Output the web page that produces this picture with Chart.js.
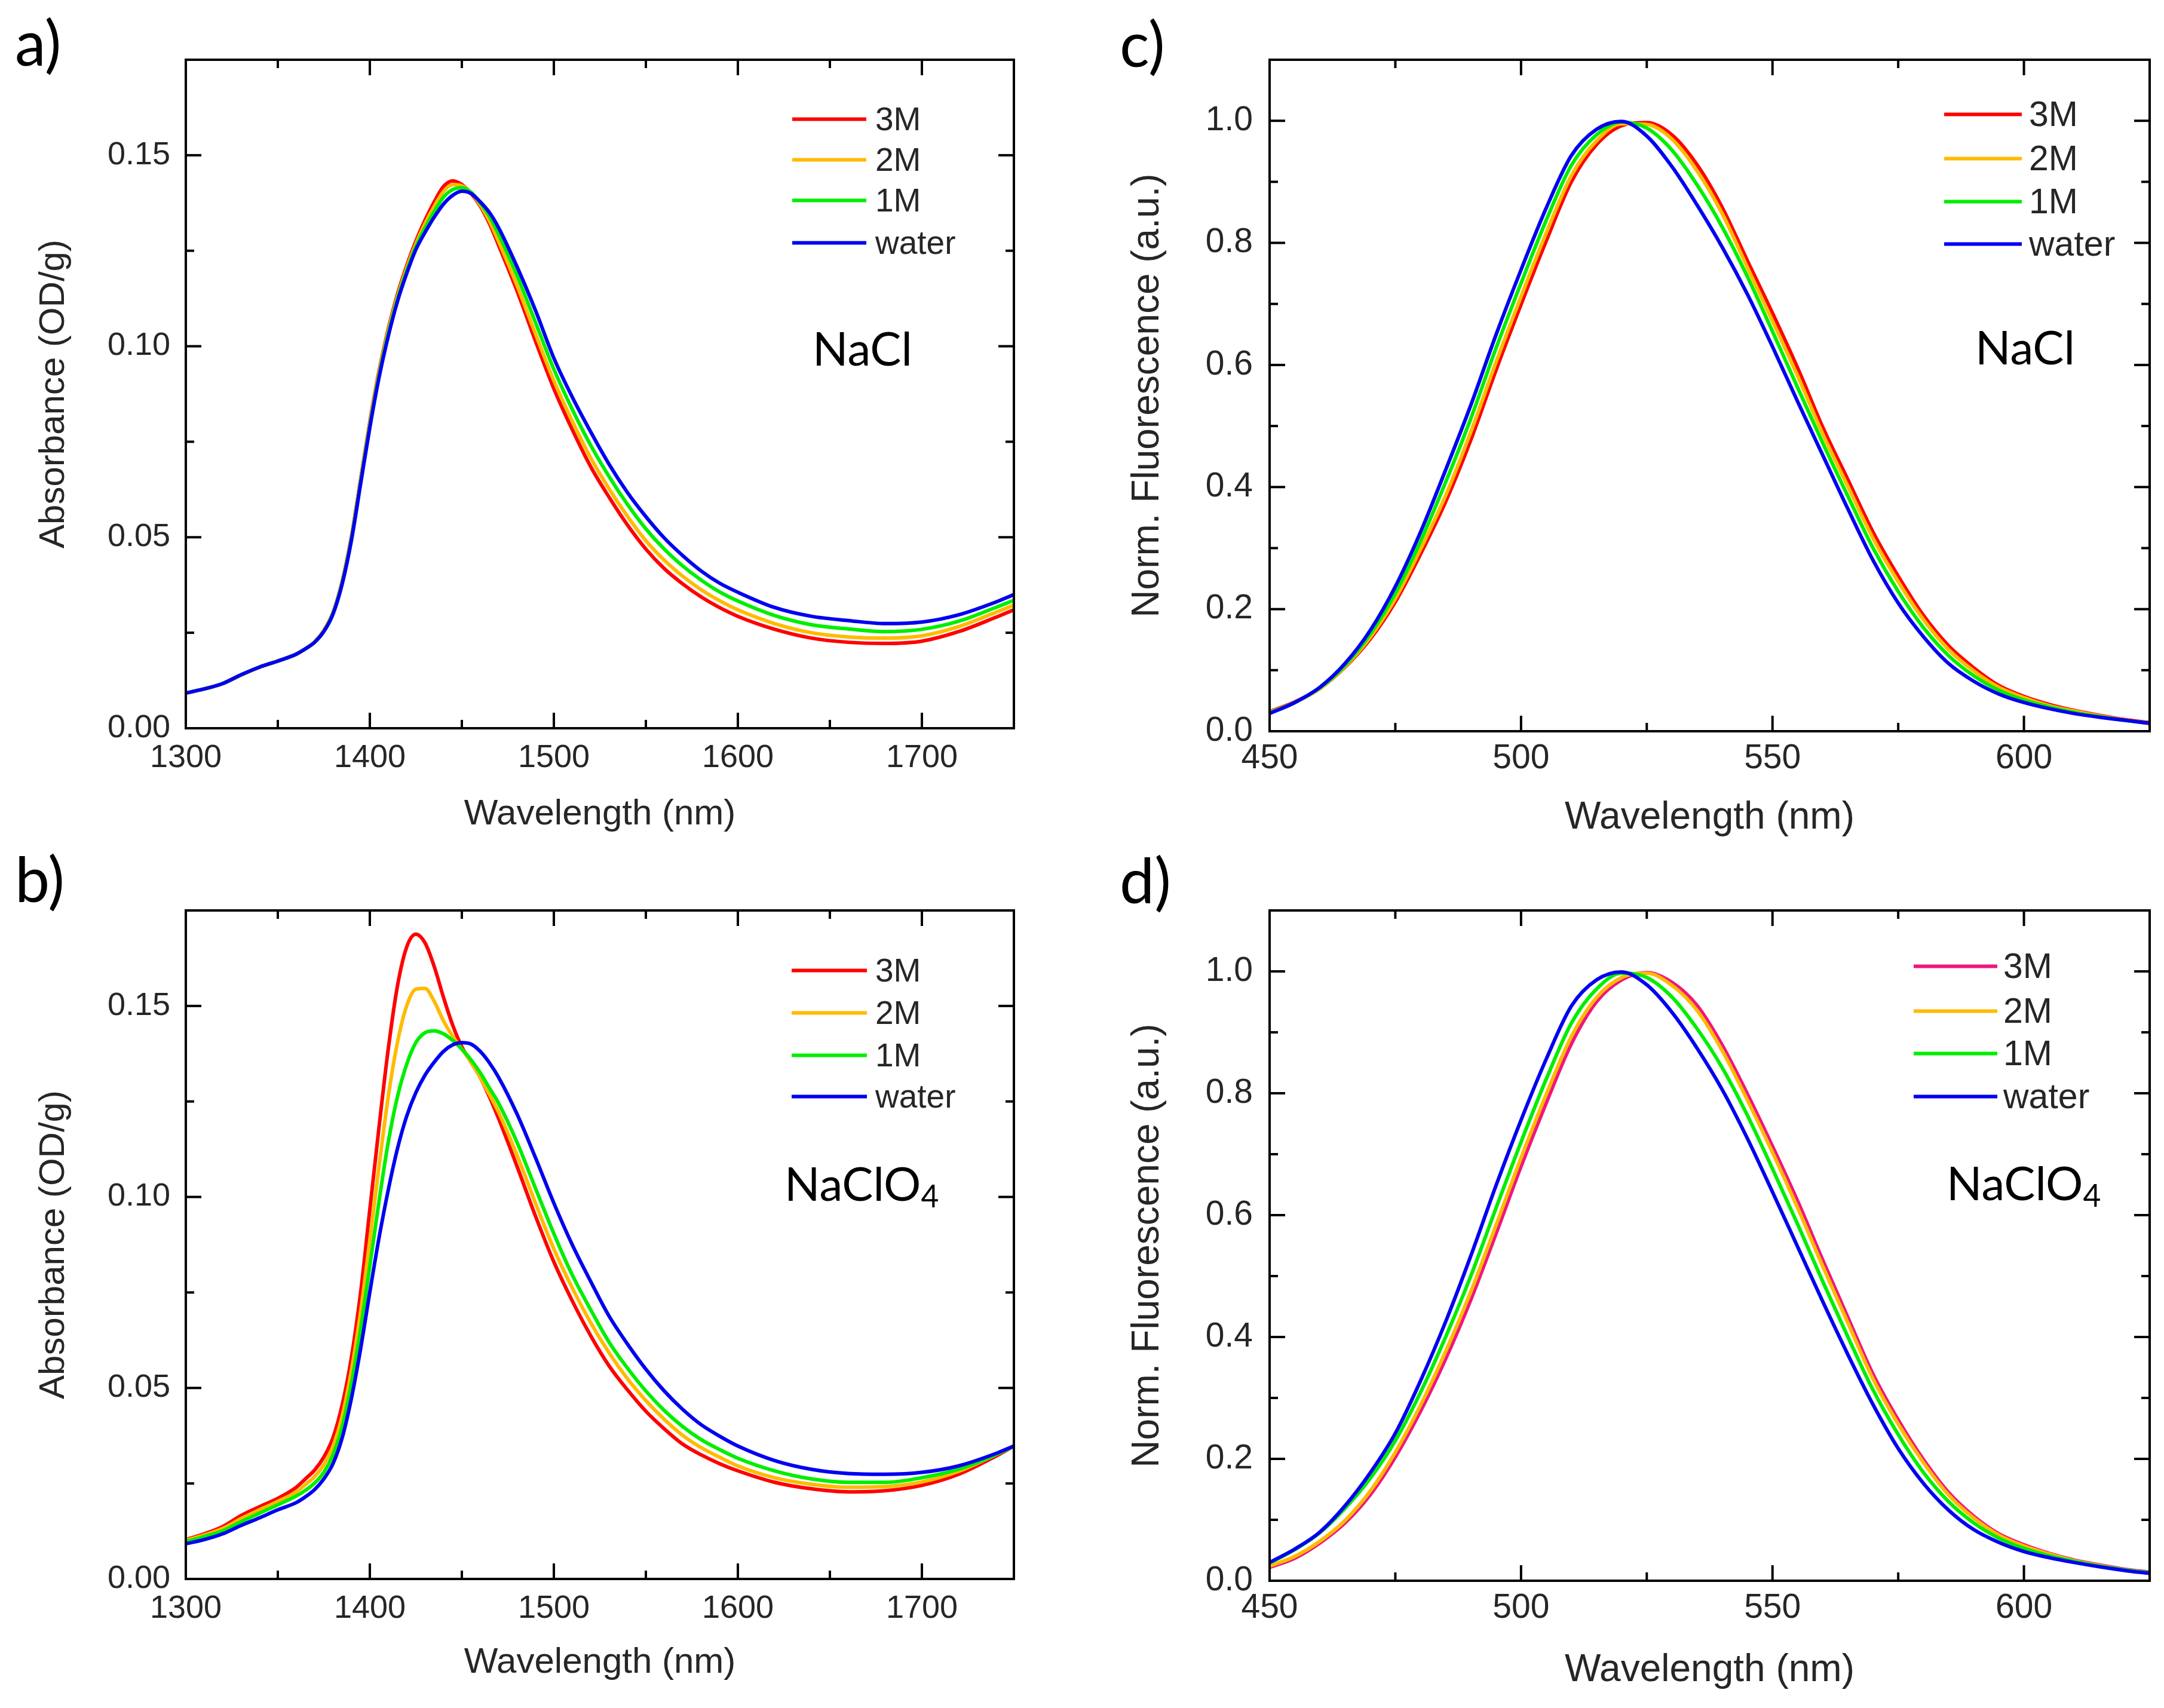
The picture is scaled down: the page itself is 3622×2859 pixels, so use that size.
<!DOCTYPE html>
<html>
<head>
<meta charset="utf-8">
<title>Absorbance and fluorescence spectra in NaCl and NaClO4</title>
<script src="https://cdn.jsdelivr.net/npm/chart.js@4.4.1/dist/chart.umd.min.js"></script>
<style>
  html, body { margin: 0; padding: 0; background: #fff; }
  #page { position: relative; width: 3622px; height: 2859px; overflow: hidden; background: #fff; }
  #page canvas { position: absolute; left: 0; top: 0; }
  .note { position: absolute; line-height: 0; white-space: nowrap; color: #000;
          font-family: Lato, "Open Sans", sans-serif; }
  .note .sub { position: relative; top: 0.22em; font-size: 0.66em; }
  .legend-row { position: absolute; display: flex; align-items: center; transform: translateY(-50%);
                font-family: "Liberation Sans", Arial, sans-serif; color: #262626; line-height: 1; }
  .legend-row .swatch { display: inline-block; height: 6px; }
</style>
</head>
<body>
<div id="page">
  <canvas id="chartA" width="3622" height="2859"></canvas>
  <canvas id="chartB" width="3622" height="2859"></canvas>
  <canvas id="chartC" width="3622" height="2859"></canvas>
  <canvas id="chartD" width="3622" height="2859"></canvas>
</div>
<script>
// ---- data ----
const seriesLabels = ["3M", "2M", "1M", "water"];

// absorbance panels (a, b), wavelength in nm
const absWavelength = [1300, 1310, 1320, 1330, 1340, 1350, 1360, 1365, 1370, 1375, 1380, 1385, 1390, 1395,
  1400, 1405, 1410, 1415, 1420, 1425, 1430, 1435, 1440, 1445, 1450, 1455, 1460, 1465, 1470, 1480, 1490,
  1500, 1510, 1520, 1530, 1540, 1550, 1560, 1570, 1580, 1590, 1600, 1620, 1640, 1660, 1680, 1700, 1720,
  1740, 1750];

const naclAbs3M = [0.0092, 0.0103, 0.0117, 0.0139, 0.0160, 0.0176, 0.0194, 0.0208, 0.0226, 0.0256, 0.0303,
  0.0385, 0.0502, 0.0652, 0.0802, 0.0935, 0.1045, 0.1136, 0.1210, 0.1275, 0.1330, 0.1378, 0.1418, 0.1433,
  0.1423, 0.1400, 0.1367, 0.1321, 0.1264, 0.1145, 0.1014, 0.0889, 0.0782, 0.0685, 0.0605, 0.0532, 0.0469,
  0.0418, 0.0378, 0.0344, 0.0316, 0.0293, 0.0259, 0.0236, 0.0225, 0.0222, 0.0228, 0.0253, 0.0290, 0.0310];
const naclAbs2M = [0.0092, 0.0103, 0.0117, 0.0139, 0.0160, 0.0176, 0.0194, 0.0208, 0.0226, 0.0255, 0.0302,
  0.0383, 0.0499, 0.0648, 0.0797, 0.0930, 0.1040, 0.1130, 0.1204, 0.1268, 0.1321, 0.1366, 0.1405, 0.1423,
  0.1420, 0.1402, 0.1370, 0.1328, 0.1274, 0.1159, 0.1033, 0.0910, 0.0804, 0.0708, 0.0627, 0.0555, 0.0491,
  0.0440, 0.0398, 0.0363, 0.0334, 0.0310, 0.0274, 0.0250, 0.0239, 0.0236, 0.0242, 0.0266, 0.0303, 0.0322];
const naclAbs1M = [0.0092, 0.0103, 0.0117, 0.0140, 0.0160, 0.0176, 0.0194, 0.0208, 0.0225, 0.0254, 0.0301,
  0.0381, 0.0496, 0.0644, 0.0792, 0.0924, 0.1033, 0.1124, 0.1197, 0.1261, 0.1310, 0.1353, 0.1390, 0.1410,
  0.1415, 0.1403, 0.1375, 0.1340, 0.1293, 0.1185, 0.1063, 0.0940, 0.0835, 0.0741, 0.0659, 0.0586, 0.0522,
  0.0469, 0.0425, 0.0388, 0.0357, 0.0333, 0.0295, 0.0271, 0.0260, 0.0253, 0.0259, 0.0280, 0.0316, 0.0335];
const naclAbsWater = [0.0092, 0.0103, 0.0117, 0.0140, 0.0160, 0.0176, 0.0194, 0.0208, 0.0225, 0.0253, 0.0299,
  0.0378, 0.0492, 0.0640, 0.0787, 0.0918, 0.1026, 0.1117, 0.1190, 0.1253, 0.1298, 0.1338, 0.1372, 0.1395,
  0.1406, 0.1400, 0.1378, 0.1350, 0.1310, 0.1208, 0.1094, 0.0969, 0.0867, 0.0776, 0.0691, 0.0617, 0.0554,
  0.0498, 0.0452, 0.0412, 0.0380, 0.0356, 0.0316, 0.0293, 0.0282, 0.0274, 0.0278, 0.0297, 0.0330, 0.0350];

const clo4Abs3M = [0.0103, 0.0118, 0.0137, 0.0166, 0.0189, 0.0211, 0.0240, 0.0262, 0.0285, 0.0319, 0.0370,
  0.0456, 0.0580, 0.0750, 0.0967, 0.1183, 0.1387, 0.1552, 0.1654, 0.1688, 0.1665, 0.1603, 0.1523, 0.1450,
  0.1393, 0.1353, 0.1313, 0.1262, 0.1205, 0.1080, 0.0950, 0.0830, 0.0728, 0.0637, 0.0558, 0.0495, 0.0439,
  0.0393, 0.0353, 0.0325, 0.0302, 0.0283, 0.0253, 0.0236, 0.0228, 0.0231, 0.0245, 0.0274, 0.0321, 0.0348];
const clo4Abs2M = [0.0101, 0.0115, 0.0132, 0.0158, 0.0181, 0.0203, 0.0228, 0.0247, 0.0268, 0.0299, 0.0348,
  0.0427, 0.0546, 0.0700, 0.0887, 0.1080, 0.1262, 0.1404, 0.1500, 0.1544, 0.1546, 0.1512, 0.1461, 0.1421,
  0.1387, 0.1353, 0.1313, 0.1268, 0.1222, 0.1109, 0.0984, 0.0864, 0.0762, 0.0671, 0.0592, 0.0524, 0.0467,
  0.0418, 0.0376, 0.0344, 0.0319, 0.0296, 0.0265, 0.0248, 0.0240, 0.0242, 0.0254, 0.0282, 0.0325, 0.0348];
const clo4Abs1M = [0.0098, 0.0111, 0.0126, 0.0150, 0.0172, 0.0194, 0.0217, 0.0232, 0.0251, 0.0279, 0.0325,
  0.0399, 0.0512, 0.0654, 0.0819, 0.0989, 0.1143, 0.1262, 0.1347, 0.1404, 0.1430, 0.1435, 0.1427, 0.1410,
  0.1387, 0.1359, 0.1325, 0.1285, 0.1245, 0.1143, 0.1023, 0.0904, 0.0796, 0.0705, 0.0620, 0.0552, 0.0492,
  0.0441, 0.0399, 0.0365, 0.0339, 0.0316, 0.0283, 0.0262, 0.0253, 0.0253, 0.0265, 0.0287, 0.0325, 0.0348];
const clo4AbsWater = [0.0092, 0.0103, 0.0118, 0.0140, 0.0160, 0.0181, 0.0200, 0.0215, 0.0234, 0.0262, 0.0302,
  0.0370, 0.0473, 0.0603, 0.0751, 0.0893, 0.1018, 0.1126, 0.1211, 0.1273, 0.1319, 0.1353, 0.1381, 0.1398,
  0.1404, 0.1400, 0.1381, 0.1351, 0.1313, 0.1217, 0.1103, 0.0984, 0.0875, 0.0779, 0.0688, 0.0615, 0.0549,
  0.0492, 0.0444, 0.0404, 0.0374, 0.0348, 0.0310, 0.0287, 0.0276, 0.0274, 0.0279, 0.0296, 0.0328, 0.0348];

// fluorescence panels (c, d), wavelength in nm
const flWavelength = [450, 455, 460, 465, 470, 475, 480, 485, 490, 495, 500, 505, 510, 515, 520, 525, 530,
  535, 540, 545, 550, 555, 560, 565, 570, 575, 580, 585, 590, 595, 600, 605, 610, 615, 620, 625];

const naclFl3M = [0.032, 0.048, 0.070, 0.105, 0.151, 0.212, 0.290, 0.376, 0.477, 0.591, 0.699, 0.803, 0.900,
  0.961, 0.992, 0.997, 0.977, 0.928, 0.858, 0.771, 0.685, 0.595, 0.498, 0.412, 0.326, 0.254, 0.190, 0.140,
  0.104, 0.075, 0.057, 0.044, 0.034, 0.026, 0.019, 0.014];
const naclFl2M = [0.031, 0.047, 0.070, 0.106, 0.154, 0.217, 0.298, 0.386, 0.490, 0.604, 0.712, 0.816, 0.910,
  0.967, 0.995, 0.994, 0.970, 0.918, 0.848, 0.760, 0.672, 0.582, 0.487, 0.401, 0.316, 0.245, 0.183, 0.134,
  0.099, 0.072, 0.055, 0.042, 0.033, 0.025, 0.018, 0.013];
const naclFl1M = [0.030, 0.047, 0.071, 0.108, 0.159, 0.226, 0.311, 0.408, 0.512, 0.627, 0.734, 0.837, 0.927,
  0.977, 0.998, 0.988, 0.952, 0.895, 0.826, 0.745, 0.655, 0.563, 0.472, 0.385, 0.300, 0.229, 0.170, 0.124,
  0.091, 0.067, 0.051, 0.040, 0.031, 0.024, 0.018, 0.013];
const naclFlWater = [0.029, 0.047, 0.072, 0.111, 0.165, 0.237, 0.326, 0.428, 0.534, 0.649, 0.756, 0.857, 0.943,
  0.986, 0.999, 0.975, 0.925, 0.862, 0.793, 0.716, 0.630, 0.540, 0.452, 0.364, 0.280, 0.210, 0.155, 0.111,
  0.082, 0.061, 0.047, 0.037, 0.029, 0.023, 0.018, 0.013];

const clo4Fl3M = [0.022, 0.037, 0.062, 0.095, 0.141, 0.203, 0.278, 0.364, 0.461, 0.569, 0.680, 0.784, 0.881,
  0.950, 0.986, 0.998, 0.982, 0.944, 0.879, 0.799, 0.713, 0.623, 0.526, 0.432, 0.339, 0.264, 0.199, 0.145,
  0.106, 0.077, 0.059, 0.045, 0.034, 0.026, 0.019, 0.014];
const clo4Fl2M = [0.024, 0.040, 0.065, 0.099, 0.147, 0.211, 0.288, 0.376, 0.474, 0.583, 0.694, 0.798, 0.893,
  0.957, 0.990, 0.997, 0.977, 0.936, 0.870, 0.789, 0.703, 0.612, 0.516, 0.423, 0.331, 0.257, 0.194, 0.141,
  0.103, 0.075, 0.057, 0.044, 0.033, 0.025, 0.018, 0.013];
const clo4Fl1M = [0.029, 0.051, 0.079, 0.119, 0.168, 0.230, 0.309, 0.400, 0.500, 0.611, 0.720, 0.823, 0.915,
  0.971, 0.997, 0.990, 0.958, 0.906, 0.842, 0.764, 0.676, 0.585, 0.491, 0.400, 0.313, 0.240, 0.178, 0.130,
  0.095, 0.070, 0.053, 0.041, 0.032, 0.024, 0.018, 0.013];
const clo4FlWater = [0.030, 0.052, 0.080, 0.123, 0.177, 0.242, 0.328, 0.425, 0.533, 0.648, 0.756, 0.856, 0.943,
  0.986, 0.999, 0.978, 0.933, 0.874, 0.806, 0.726, 0.638, 0.548, 0.458, 0.371, 0.289, 0.217, 0.160, 0.116,
  0.084, 0.063, 0.048, 0.038, 0.030, 0.023, 0.017, 0.012];

// tick values
const absXTicks = [1300, 1400, 1500, 1600, 1700];
const absXMinor = [1350, 1450, 1550, 1650];
const absYTicks = [0, 0.05, 0.10, 0.15];
const absYMinor = [0.025, 0.075, 0.125];
const flXTicks = [450, 500, 550, 600];
const flXMinor = [475, 525, 575];
const flYTicks = [0, 0.2, 0.4, 0.6, 0.8, 1.0];
const flYMinor = [0.1, 0.3, 0.5, 0.7, 0.9];

const naclColors = ["#ff0000", "#ffbb00", "#00ee00", "#0000f0"];
const clo4FlColors = ["#f0157f", "#ffbb00", "#00ee00", "#0000f0"];

// ---- layout ----
const PAGE_W = 3622, PAGE_H = 2859;
const Y_AXIS_W = 300, X_AXIS_H = 200;
const TEXT = "#262626";
Chart.defaults.font.family = '"Liberation Sans", Arial, sans-serif';

// box with inward ticks on all four sides, Origin style
const frameTicks = {
  id: "frameTicks",
  afterDatasetsDraw(chart, args, opts) {
    const { ctx, chartArea: a, scales: { x, y } } = chart;
    const seg = (x1, y1, x2, y2) => { ctx.beginPath(); ctx.moveTo(x1, y1); ctx.lineTo(x2, y2); ctx.stroke(); };
    ctx.save();
    ctx.strokeStyle = "#000";
    ctx.lineWidth = 4;
    const xs = opts.xMajor.map(v => [v, 26]).concat(opts.xMinor.map(v => [v, 14]));
    xs.forEach(([v, len]) => {
      const px = x.getPixelForValue(v);
      seg(px, a.bottom, px, a.bottom - len);
      seg(px, a.top, px, a.top + len);
    });
    const ys = opts.yMajor.map(v => [v, 26]).concat(opts.yMinor.map(v => [v, 14]));
    ys.forEach(([v, len]) => {
      const py = y.getPixelForValue(v);
      seg(a.left, py, a.left + len, py);
      seg(a.right, py, a.right - len, py);
    });
    ctx.strokeRect(a.left, a.top, a.right - a.left, a.bottom - a.top);
    ctx.restore();
  }
};

const panels = [
  { canvas: "chartA", wavelength: absWavelength, series: [naclAbs3M, naclAbs2M, naclAbs1M, naclAbsWater],
    colors: naclColors, xRange: [1300, 1750], yRange: [0, 0.175], xTicks: absXTicks, xMinor: absXMinor,
    yTicks: absYTicks, yMinor: absYMinor, decimals: 2, yTitle: "Absorbance (OD/g)",
    area: { left: 311, right: 1697, top: 100, bottom: 1219 },
    tickSize: 54, titleSize: 60, yTickPad: 26, xTickPad: 18, yTitlePad: 43, xTitlePad: 20,
    legend: { x: 1326, line: 124, gap: 15, rows: [199, 267, 335, 406], size: 55 } },
  { canvas: "chartB", wavelength: absWavelength, series: [clo4Abs3M, clo4Abs2M, clo4Abs1M, clo4AbsWater],
    colors: naclColors, xRange: [1300, 1750], yRange: [0, 0.175], xTicks: absXTicks, xMinor: absXMinor,
    yTicks: absYTicks, yMinor: absYMinor, decimals: 2, yTitle: "Absorbance (OD/g)",
    area: { left: 311, right: 1697, top: 1524, bottom: 2643 },
    tickSize: 54, titleSize: 60, yTickPad: 26, xTickPad: 18, yTitlePad: 43, xTitlePad: 24,
    legend: { x: 1325, line: 126, gap: 14, rows: [1624, 1695, 1766, 1835], size: 55 } },
  { canvas: "chartC", wavelength: flWavelength, series: [naclFl3M, naclFl2M, naclFl1M, naclFlWater],
    colors: naclColors, xRange: [450, 625], yRange: [0, 1.1], xTicks: flXTicks, xMinor: flXMinor,
    yTicks: flYTicks, yMinor: flYMinor, decimals: 1, yTitle: "Norm. Fluorescence (a.u.)",
    area: { left: 2125, right: 3598, top: 100, bottom: 1224 },
    tickSize: 57, titleSize: 64, yTickPad: 28, xTickPad: 12, yTitlePad: 58, xTitlePad: 16,
    legend: { x: 3254, line: 130, gap: 12, rows: [191, 265, 337, 408], size: 59 } },
  { canvas: "chartD", wavelength: flWavelength, series: [clo4Fl3M, clo4Fl2M, clo4Fl1M, clo4FlWater],
    colors: clo4FlColors, xRange: [450, 625], yRange: [0, 1.1], xTicks: flXTicks, xMinor: flXMinor,
    yTicks: flYTicks, yMinor: flYMinor, decimals: 1, yTitle: "Norm. Fluorescence (a.u.)",
    area: { left: 2125, right: 3598, top: 1524, bottom: 2646 },
    tickSize: 57, titleSize: 64, yTickPad: 28, xTickPad: 12, yTitlePad: 58, xTitlePad: 11,
    legend: { x: 3203, line: 140, gap: 10, rows: [1617, 1692, 1763, 1835], size: 59 } },
];

const notes = [
  { text: "a)", left: 25, baseline: 110, size: 104 },
  { text: "b)", left: 25, baseline: 1510, size: 104 },
  { text: "c)", left: 1874, baseline: 112, size: 104 },
  { text: "d)", left: 1874, baseline: 1512, size: 104 },
  { text: "NaCl", left: 1360, baseline: 612, size: 78 },
  { text: "NaCl", left: 3306, baseline: 610, size: 78 },
  { text: "NaClO", sub: "4", left: 1313, baseline: 2010, size: 78 },
  { text: "NaClO", sub: "4", left: 3258, baseline: 2009, size: 78 },
];

function buildChart(p) {
  const datasets = p.series.map((values, i) => ({
    label: seriesLabels[i],
    data: p.wavelength.map((w, j) => ({ x: w, y: values[j] })),
    borderColor: p.colors[i],
    backgroundColor: p.colors[i],
    borderWidth: 6,
    pointRadius: 0,
    fill: false,
    cubicInterpolationMode: "monotone",
    order: seriesLabels.length - 1 - i,   // water on top
  }));

  return new Chart(document.getElementById(p.canvas), {
    type: "line",
    data: { datasets },
    plugins: [frameTicks],
    options: {
      responsive: false,
      animation: false,
      devicePixelRatio: 1,
      layout: {
        padding: {
          left: p.area.left - Y_AXIS_W,
          top: p.area.top,
          right: PAGE_W - p.area.right,
          bottom: PAGE_H - p.area.bottom - X_AXIS_H,
        },
      },
      plugins: {
        legend: { display: false },
        tooltip: { enabled: false },
        frameTicks: { xMajor: p.xTicks, xMinor: p.xMinor, yMajor: p.yTicks, yMinor: p.yMinor },
      },
      scales: {
        x: {
          type: "linear",
          min: p.xRange[0],
          max: p.xRange[1],
          afterBuildTicks: (s) => { s.ticks = p.xTicks.map(v => ({ value: v })); },
          afterFit: (s) => { s.height = X_AXIS_H; },
          grid: { display: false, drawTicks: false },
          border: { display: false },
          ticks: {
            autoSkip: false, maxRotation: 0, padding: p.xTickPad, color: TEXT,
            font: { size: p.tickSize }, callback: (v) => String(v),
          },
          title: {
            display: true, text: "Wavelength (nm)", color: TEXT,
            font: { size: p.titleSize }, padding: { top: 0, bottom: p.xTitlePad },
          },
        },
        y: {
          type: "linear",
          min: p.yRange[0],
          max: p.yRange[1],
          afterBuildTicks: (s) => { s.ticks = p.yTicks.map(v => ({ value: v })); },
          afterFit: (s) => { s.width = Y_AXIS_W; },
          grid: { display: false, drawTicks: false },
          border: { display: false },
          ticks: {
            padding: p.yTickPad, color: TEXT, font: { size: p.tickSize },
            callback: (v) => Number(v).toFixed(p.decimals),
          },
          title: {
            display: true, text: p.yTitle, color: TEXT,
            font: { size: p.titleSize }, padding: { top: p.yTitlePad, bottom: 0 },
          },
        },
      },
    },
  });
}

const page = document.getElementById("page");

panels.forEach((p) => {
  const chart = buildChart(p);
  // legend as html rows, taken from the chart's own datasets
  chart.data.datasets.forEach((ds, i) => {
    const row = document.createElement("div");
    row.className = "legend-row";
    row.style.left = p.legend.x + "px";
    row.style.top = p.legend.rows[i] + "px";
    row.style.fontSize = p.legend.size + "px";
    const swatch = document.createElement("span");
    swatch.className = "swatch";
    swatch.style.width = p.legend.line + "px";
    swatch.style.background = ds.borderColor;
    const label = document.createElement("span");
    label.textContent = ds.label;
    label.style.marginLeft = p.legend.gap + "px";
    row.appendChild(swatch);
    row.appendChild(label);
    page.appendChild(row);
  });
});

notes.forEach((n) => {
  const el = document.createElement("div");
  el.className = "note";
  el.style.left = n.left + "px";
  el.style.fontSize = n.size + "px";
  // line-height 0 puts the baseline about 0.387em below the box top for Lato
  el.style.top = (n.baseline - 0.387 * n.size) + "px";
  el.textContent = n.text;
  if (n.sub) {
    const s = document.createElement("span");
    s.className = "sub";
    s.textContent = n.sub;
    el.appendChild(s);
  }
  page.appendChild(el);
});
</script>
</body>
</html>
